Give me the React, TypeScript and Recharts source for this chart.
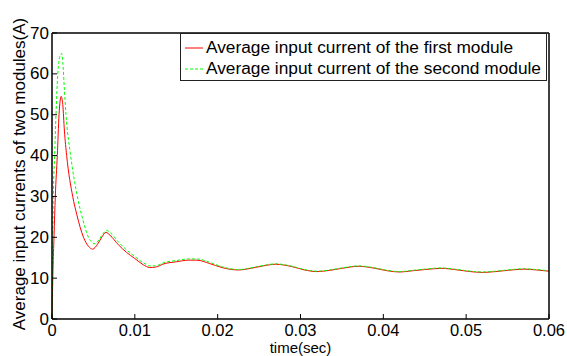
import React from 'react';
import { LineChart, Line, XAxis, YAxis, Legend } from 'recharts';

const FONT = "'Liberation Sans', Arial, sans-serif";

// time axis ticks (sec) and current ticks (A)
const timeTicks = [0, 0.01, 0.02, 0.03, 0.04, 0.05, 0.06];
const currentTicks = [0, 10, 20, 30, 40, 50, 60, 70];

// first module (red, solid)
const firstTime = [
  0, 0.00012, 0.00024, 0.0004, 0.00064, 0.00085, 0.0011, 0.0013, 0.0015, 0.00177,
  0.0025, 0.003, 0.0038, 0.0044, 0.0049, 0.0055, 0.006, 0.0065, 0.007, 0.008,
  0.009, 0.01, 0.011, 0.0118, 0.0125, 0.0135, 0.015, 0.0165, 0.0175, 0.019,
  0.0205, 0.0225, 0.024, 0.0255, 0.027, 0.029, 0.0305, 0.032, 0.0335, 0.035,
  0.037, 0.039, 0.0405, 0.042, 0.0435, 0.045, 0.047, 0.049, 0.0505, 0.052,
  0.0535, 0.055, 0.057, 0.0585, 0.06,
];
const firstCurrent = [
  0, 12, 20, 30, 40, 50, 54.5, 52.5, 46, 40,
  30, 25.5, 20, 17.8, 17.1, 18.3, 20, 21.2, 20.5, 18.2,
  16.3, 14.8, 13.3, 12.6, 12.7, 13.5, 14.0, 14.4, 14.4, 13.6,
  12.6, 12.0, 12.4, 13.0, 13.4, 12.8, 12.0, 11.6, 11.9, 12.4,
  12.9, 12.4, 11.8, 11.5, 11.8, 12.1, 12.4, 12.0, 11.6, 11.4,
  11.6, 11.9, 12.2, 12.0, 11.7,
];

// second module (green, dashed)
const secondTime = [
  0, 0.00005, 0.0001, 0.00016, 0.00032, 0.00048, 0.0007, 0.00095, 0.00115, 0.0013,
  0.0015, 0.00169, 0.00225, 0.00306, 0.0037, 0.0044, 0.0048, 0.0052, 0.0057, 0.0062,
  0.0066, 0.007, 0.008, 0.009, 0.01, 0.011, 0.0118, 0.0125, 0.0135, 0.015,
  0.0165, 0.0175, 0.019, 0.0205, 0.0225, 0.024, 0.0255, 0.027, 0.029, 0.0305,
  0.032, 0.0335, 0.035, 0.037, 0.039, 0.0405, 0.042, 0.0435, 0.045, 0.047,
  0.049, 0.0505, 0.052, 0.0535, 0.055, 0.057, 0.0585, 0.06,
];
const secondCurrent = [
  0, 10, 20, 30, 40, 50, 60, 64.3, 65, 63,
  56, 50, 40, 30, 24.5, 20, 18.8, 18.4, 19.5, 21,
  21.7, 21.2, 18.9, 16.9, 15.3, 13.8, 13.0, 13.0, 13.8, 14.3,
  14.7, 14.7, 13.9, 12.8, 12.1, 12.5, 13.1, 13.5, 12.9, 12.1,
  11.7, 12.0, 12.5, 13.0, 12.5, 11.9, 11.6, 11.9, 12.2, 12.5,
  12.1, 11.7, 11.5, 11.7, 12.0, 12.3, 12.1, 11.8,
];

const seriesNames = [
  'Average input current of the first module',
  'Average input current of the second module',
];

const firstData = firstTime.map((t, i) => ({ t, v: firstCurrent[i] }));
const secondData = secondTime.map((t, i) => ({ t, v: secondCurrent[i] }));

const LeftTick = (p: any) => (
  <g>
    <line x1={p.x} x2={p.x + 5} y1={p.y} y2={p.y} stroke="#000" />
    <text x={p.x - 3} y={p.y} textAnchor="end" dominantBaseline="central" fontSize={17} fontFamily={FONT} fill="#000">
      {p.payload.value}
    </text>
  </g>
);

const RightTick = (p: any) => (
  <line x1={p.x} x2={p.x - 5} y1={p.y} y2={p.y} stroke="#000" />
);

const BottomTick = (p: any) => (
  <g>
    <line x1={p.x} x2={p.x} y1={p.y} y2={p.y - 5} stroke="#000" />
    <text x={p.x} y={p.y + 11} textAnchor="middle" dominantBaseline="central" fontSize={16.5} fontFamily={FONT} fill="#000">
      {String(p.payload.value)}
    </text>
  </g>
);

const TopTick = (p: any) => (
  <line x1={p.x} x2={p.x} y1={p.y} y2={p.y + 5} stroke="#000" />
);

const YLabel = (props: any) => {
  const vb = props.viewBox || { x: 0, y: 33, width: 52, height: 286 };
  const cx = 19;
  const cy = vb.y + vb.height / 2 - 2;
  return (
    <text x={cx} y={cy} transform={`rotate(-90 ${cx} ${cy})`} textAnchor="middle" dominantBaseline="central" fontSize={17} fontFamily={FONT} fill="#000">
      Average input currents of two modules(A)
    </text>
  );
};

const XLabel = (props: any) => {
  const vb = props.viewBox || { x: 52, y: 319, width: 497, height: 37 };
  return (
    <text x={vb.x + vb.width / 2} y={vb.y + 28} textAnchor="middle" dominantBaseline="central" fontSize={15} fontFamily={FONT} fill="#000">
      time(sec)
    </text>
  );
};

const LegendBox = () => (
  <div
    style={{
      border: '1.5px solid #222',
      background: '#fff',
      padding: '3px 4px 1px 4px',
      fontFamily: FONT,
      fontSize: 17.3,
      width: 367,
      boxSizing: 'border-box',
      color: '#000',
    }}
  >
    {seriesNames.map((name, i) => (
      <div key={name} style={{ display: 'flex', alignItems: 'center', height: 21, whiteSpace: 'nowrap' }}>
        <svg width={18} height={10} style={{ marginRight: 3, flexShrink: 0 }}>
          <line x1={0} x2={18} y1={5} y2={5} stroke={i === 0 ? '#ff0000' : '#00ff00'} strokeDasharray={i === 0 ? undefined : '3 2'} />
        </svg>
        <span>{name}</span>
      </div>
    ))}
  </div>
);

export default function App() {
  return (
    <div style={{ position: 'absolute', left: 0, top: 0, background: '#fff' }}>
      <LineChart width={567} height={356} margin={{ top: 32, right: 17, bottom: 0, left: 0 }}>
        <XAxis
          xAxisId={0}
          dataKey="t"
          type="number"
          domain={[0, 0.06]}
          ticks={timeTicks}
          tickSize={0}
          tickMargin={0}
          tick={<BottomTick />}
          tickLine={false}
          axisLine={{ stroke: '#000', strokeWidth: 1.5 }}
          height={37}
          label={<XLabel />}
        />
        <XAxis
          xAxisId="top"
          orientation="top"
          dataKey="t"
          type="number"
          domain={[0, 0.06]}
          ticks={timeTicks}
          tickSize={0}
          tickMargin={0}
          tick={<TopTick />}
          tickLine={false}
          axisLine={{ stroke: '#000', strokeWidth: 1.5 }}
          height={1}
        />
        <YAxis
          yAxisId={0}
          type="number"
          domain={[0, 70]}
          ticks={currentTicks}
          tickSize={0}
          tickMargin={0}
          tick={<LeftTick />}
          tickLine={false}
          axisLine={{ stroke: '#000', strokeWidth: 1.5 }}
          width={52}
          label={<YLabel />}
        />
        <YAxis
          yAxisId="right"
          orientation="right"
          type="number"
          domain={[0, 70]}
          ticks={currentTicks}
          tickSize={0}
          tickMargin={0}
          tick={<RightTick />}
          tickLine={false}
          axisLine={{ stroke: '#000', strokeWidth: 1.5 }}
          width={1}
        />
        <Legend
          layout="vertical"
          align="center"
          verticalAlign="middle"
          content={<LegendBox />}
          wrapperStyle={{ position: 'absolute', left: 180, top: 33, width: 'auto' }}
        />
        <Line
          data={firstData}
          dataKey="v"
          name={seriesNames[0]}
          type="monotone"
          stroke="#ff0000"
          strokeWidth={1}
          dot={false}
          isAnimationActive={false}
        />
        <Line
          data={secondData}
          dataKey="v"
          name={seriesNames[1]}
          type="monotone"
          stroke="#00ff00"
          strokeWidth={1}
          strokeDasharray="3 2"
          dot={false}
          isAnimationActive={false}
        />
      </LineChart>
    </div>
  );
}
